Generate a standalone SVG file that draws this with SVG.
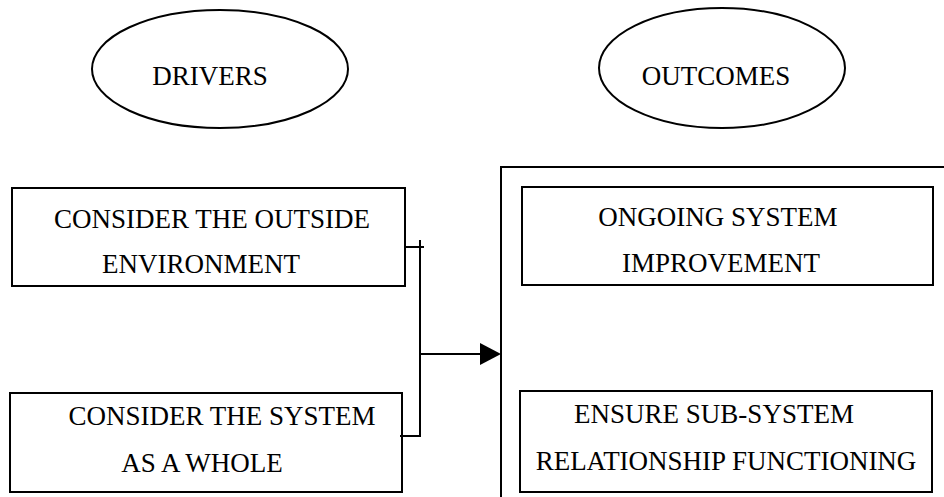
<svg xmlns="http://www.w3.org/2000/svg" width="944" height="497" viewBox="0 0 944 497">
<style>
.shape{fill:none;stroke:#000;stroke-width:2}
.lbl{font-family:"Liberation Serif","Times New Roman",serif;font-size:27px;fill:#000;text-anchor:middle}
.conn{fill:none;stroke:#000;stroke-width:2}
</style>
<rect width="944" height="497" fill="#fff"/>
<g id="drivers">
<ellipse class="shape" cx="220" cy="69" rx="128" ry="59"/>
<text class="lbl" x="210" y="85">DRIVERS</text>
</g>
<g id="outcomes">
<ellipse class="shape" cx="722" cy="68" rx="123" ry="60"/>
<text class="lbl" x="716" y="85">OUTCOMES</text>
</g>
<g id="outcomes-frame">
<path class="shape" d="M501,497 V167 H944"/>
</g>
<g id="outside-env">
<rect class="shape" x="12" y="188" width="393" height="98"/>
<text class="lbl" x="212" y="228">CONSIDER THE OUTSIDE</text>
<text class="lbl" x="201" y="273">ENVIRONMENT</text>
</g>
<g id="system-whole">
<rect class="shape" x="10" y="393" width="392" height="99"/>
<text class="lbl" x="222" y="425">CONSIDER THE SYSTEM</text>
<text class="lbl" x="202" y="472">AS A WHOLE</text>
</g>
<g id="ongoing">
<rect class="shape" x="522" y="187" width="411" height="98"/>
<text class="lbl" x="718" y="226">ONGOING SYSTEM</text>
<text class="lbl" x="721" y="272">IMPROVEMENT</text>
</g>
<g id="ensure">
<rect class="shape" x="520" y="391" width="412" height="101"/>
<text class="lbl" x="714" y="423">ENSURE SUB-SYSTEM</text>
<text class="lbl" x="726" y="470">RELATIONSHIP FUNCTIONING</text>
</g>
<g id="connectors">
<path class="conn" d="M405,247 H424"/>
<path class="conn" d="M420,240 V436 H400"/>
<path class="conn" d="M420,354 H482"/>
<polygon points="480,343 501,354 480,365" fill="#000"/>
</g>
</svg>
